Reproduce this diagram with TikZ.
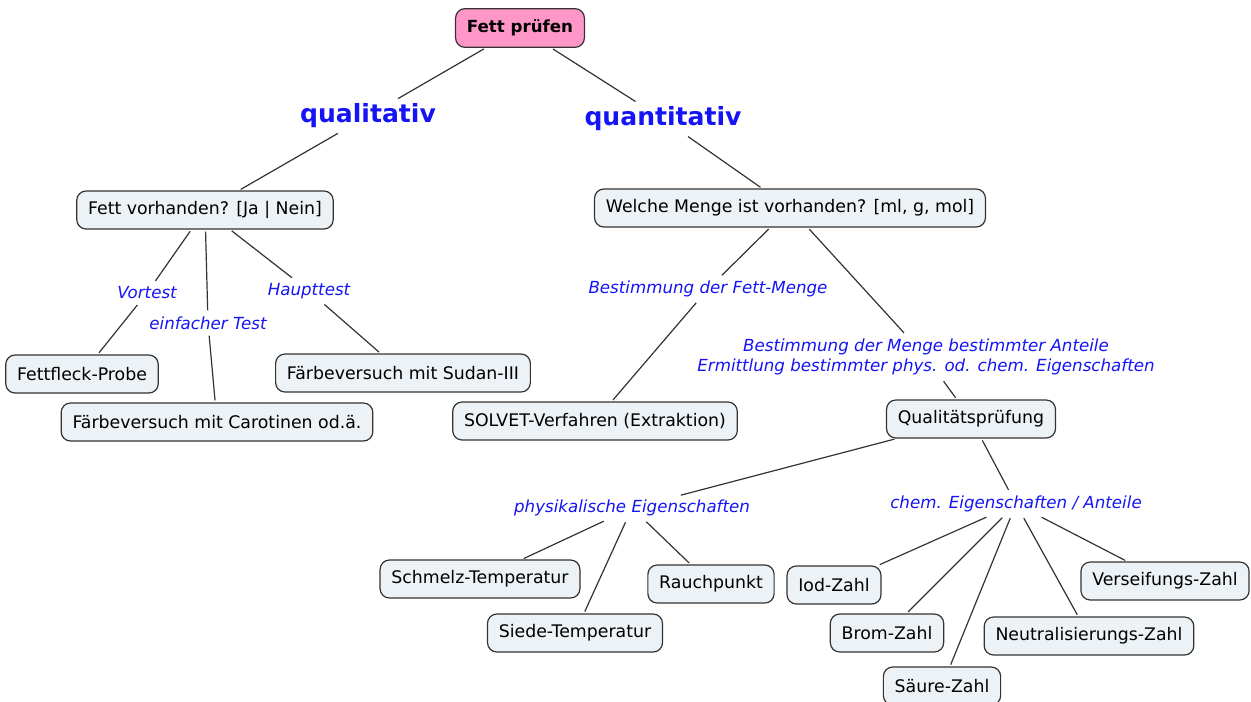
\documentclass[tikz,border=0pt]{standalone}
\usepackage{fontspec}
\setmainfont{DejaVu Sans}
\definecolor{boxfill}{RGB}{236,242,245}
\definecolor{boxline}{RGB}{51,51,51}
\definecolor{rootfill}{RGB}{255,150,200}
\definecolor{lblblue}{RGB}{20,20,245}
\begin{document}
\begin{tikzpicture}[x=0.75pt,y=-0.75pt,
  conbox/.style={draw=boxline,fill=boxfill,line width=0.9pt,rounded corners=7pt,inner xsep=8.5pt,minimum height=28.5pt,font=\fontsize{13}{15}\selectfont},
  rootbox/.style={conbox,fill=rootfill,minimum height=29pt,font=\fontsize{12.5}{15}\selectfont\bfseries},
  branch/.style={text=lblblue,font=\fontsize{18.8}{22}\selectfont\bfseries,inner sep=3pt},
  linklbl/.style={text=lblblue,font=\fontsize{12.5}{15.5}\selectfont\itshape,inner sep=3pt,align=center},
  con/.style={draw=boxline,line width=0.9pt,shorten <=1.5pt,shorten >=1.5pt}]
\useasboundingbox (0,0) rectangle (1251,701);
\node[rootbox] (root) at (520,28) {Fett prüfen};
\node[branch] (quali) at (368,116) {qualitativ};
\node[branch] (quanti) at (663,119) {quantitativ};
% qualitativ
\node[conbox] (fettvor) at (205,210) {Fett vorhanden? [Ja | Nein]};
\node[linklbl] (vortest) at (147,293) {Vortest};
\node[linklbl] (einfach) at (208,323) {einfacher Test};
\node[linklbl] (haupt) at (309,291) {Haupttest};
\node[conbox] (fleck) at (82,374) {Fettfleck-Probe};
\node[conbox] (carot) at (217,422) {Färbeversuch mit Carotinen od.ä.};
\node[conbox] (sudan) at (403,373) {Färbeversuch mit Sudan-III};
% quantitativ
\node[conbox] (welche) at (790,208) {Welche Menge ist vorhanden? [ml, g, mol]};
\node[linklbl] (fettmenge) at (708,289) {Bestimmung der Fett-Menge};
\node[conbox] (solvet) at (595,421) {SOLVET-Verfahren (Extraktion)};
\node[linklbl] (anteile) at (926,357) {Bestimmung der Menge bestimmter Anteile\\Ermittlung bestimmter phys. od. chem. Eigenschaften};
\node[conbox] (qpruef) at (971,419) {Qualitätsprüfung};
\node[linklbl] (phys) at (632,508) {physikalische Eigenschaften};
\node[linklbl] (chem) at (1016,504) {chem. Eigenschaften / Anteile};
\node[conbox] (schmelz) at (480,579) {Schmelz-Temperatur};
\node[conbox] (siede) at (575,633) {Siede-Temperatur};
\node[conbox] (rauch) at (711,584) {Rauchpunkt};
\node[conbox] (iod) at (834,585) {Iod-Zahl};
\node[conbox] (brom) at (887,633) {Brom-Zahl};
\node[conbox] (saeure) at (942,686) {Säure-Zahl};
\node[conbox] (neutral) at (1089,636) {Neutralisierungs-Zahl};
\node[conbox] (verseif) at (1165,581) {Verseifungs-Zahl};
% connectors
\draw[con] (root) -- (quali);
\draw[con] (root) -- (quanti);
\draw[con] (quali) -- (fettvor);
\draw[con] (quanti) -- (welche);
\draw[con] (fettvor) -- (vortest);
\draw[con] (vortest) -- (fleck);
\draw[con] (fettvor) -- (einfach);
\draw[con] (einfach) -- (carot);
\draw[con] (fettvor) -- (haupt);
\draw[con] (haupt) -- (sudan);
\draw[con] (welche) -- (fettmenge);
\draw[con] (fettmenge) -- (solvet);
\draw[con] (welche) -- (anteile);
\draw[con] (anteile) -- (qpruef);
\draw[con] (qpruef) -- (phys);
\draw[con] (qpruef) -- (chem);
\foreach \n in {schmelz,siede,rauch} \draw[con] (phys) -- (\n);
\foreach \n in {iod,brom,saeure,neutral,verseif} \draw[con] (chem) -- (\n);
\end{tikzpicture}
\end{document}
